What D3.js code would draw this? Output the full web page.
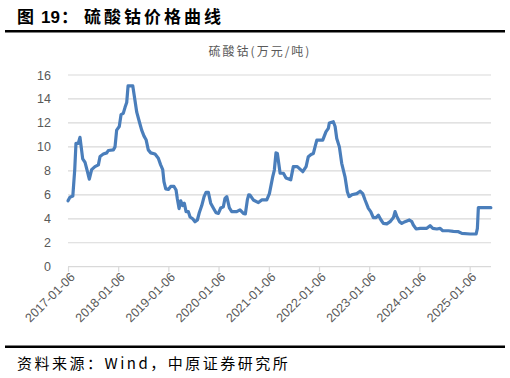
<!DOCTYPE html>
<html>
<head>
<meta charset="utf-8">
<script src="https://cdn.jsdelivr.net/npm/d3@7"></script>
<style>
  body { margin: 0; background: #fff; }
  text { font-family: "Liberation Sans", Arial, sans-serif; }
  .cjk { font-family: "Noto Sans CJK SC", sans-serif; }
</style>
</head>
<body>
<svg id="chart" width="510" height="378"></svg>
<script>
// 硫酸钴 价格 (万元/吨)
let dates = [
  "2017-01-06","2017-01-20","2017-02-10","2017-02-24","2017-03-05","2017-03-22","2017-04-03","2017-04-23",
  "2017-05-10","2017-05-26","2017-06-10","2017-06-27","2017-07-21","2017-08-15","2017-08-27","2017-09-20",
  "2017-10-15","2017-10-26","2017-12-02","2017-12-14","2017-12-26","2018-01-14","2018-01-27","2018-02-12",
  "2018-02-25","2018-03-09","2018-03-19","2018-04-22","2018-05-08","2018-05-21","2018-06-09","2018-06-26",
  "2018-07-13","2018-07-28","2018-08-13","2018-08-31","2018-10-01","2018-10-25","2018-11-11","2018-11-26",
  "2018-12-05","2018-12-18","2019-01-06","2019-01-23","2019-02-16","2019-03-03","2019-03-12","2019-03-25",
  "2019-04-06","2019-04-20","2019-05-02","2019-05-15","2019-05-31","2019-06-13","2019-07-02","2019-07-19",
  "2019-08-05","2019-08-19","2019-09-06","2019-09-23","2019-10-07","2019-10-24","2019-11-10","2019-11-29",
  "2019-12-19","2020-01-05","2020-01-22","2020-02-10","2020-02-22","2020-03-06","2020-03-25","2020-04-11",
  "2020-05-17","2020-06-10","2020-07-05","2020-07-19","2020-08-03","2020-08-13","2020-08-22","2020-09-15",
  "2020-10-22","2020-11-15","2020-12-22","2021-01-10","2021-02-03","2021-02-15","2021-02-27","2021-03-09",
  "2021-03-29","2021-04-22","2021-05-11","2021-06-14","2021-07-03","2021-08-01","2021-09-10","2021-10-04",
  "2021-10-20","2021-11-09","2021-11-26","2021-12-08","2021-12-21","2022-02-02","2022-02-26","2022-03-15",
  "2022-03-22","2022-04-20","2022-05-03","2022-05-15","2022-06-03","2022-06-20","2022-07-14","2022-07-31",
  "2022-08-13","2022-09-01","2022-10-08","2022-11-01","2022-11-20","2022-12-07","2022-12-31","2023-01-17",
  "2023-02-05","2023-02-25","2023-03-14","2023-04-02","2023-04-19","2023-05-14","2023-06-07","2023-07-01",
  "2023-07-13","2023-07-26","2023-08-14","2023-08-31","2023-09-24","2023-10-25","2023-11-12","2023-11-23",
  "2023-12-13","2024-01-11","2024-02-29","2024-03-24","2024-04-13","2024-05-12","2024-06-05","2024-06-24",
  "2024-08-04","2024-09-09","2024-10-16","2024-11-10","2025-01-09","2025-02-22","2025-03-03","2025-03-10",
  "2025-06-09"
];
let prices = [
  5.5,5.8,5.9,8.1,10.3,10.3,10.8,9.0,
  8.7,8.0,7.3,8.1,8.35,8.5,9.2,9.4,
  9.5,9.7,9.75,10.0,11.4,11.7,12.7,12.8,
  13.3,13.7,15.1,15.1,13.9,12.9,12.1,11.4,
  10.9,10.6,9.75,9.5,9.4,9.05,8.5,8.1,
  7.1,6.5,6.45,6.7,6.7,6.4,5.7,4.85,
  5.5,5.1,5.3,4.6,4.6,4.15,4.0,3.75,
  3.9,4.5,5.1,5.85,6.2,6.2,5.3,4.9,
  4.5,4.45,4.9,5.0,5.7,5.85,4.9,4.6,
  4.6,4.75,4.45,4.4,5.6,6.0,5.98,5.57,
  5.35,5.57,5.57,6.1,7.5,8.07,9.5,9.45,
  7.8,7.8,7.4,7.25,8.35,8.35,7.93,8.35,
  9.18,9.37,9.45,10.0,10.57,10.57,11.27,11.55,
  12.0,12.1,11.7,10.7,10.0,8.63,7.5,6.26,
  5.85,6.0,6.1,6.3,6.1,5.57,4.87,4.6,
  4.1,4.1,4.3,3.9,3.62,3.57,3.76,4.1,
  4.6,4.2,3.76,3.62,3.76,3.9,3.76,3.48,
  3.15,3.2,3.2,3.42,3.2,3.15,3.2,3.0,
  3.0,2.95,2.92,2.78,2.73,2.73,3.2,4.93,
  4.93
];
let xTicks = ["2017-01-06","2018-01-06","2019-01-06","2020-01-06","2021-01-06",
              "2022-01-06","2023-01-06","2024-01-06","2025-01-06"];
let yTicks = [0, 2, 4, 6, 8, 10, 12, 14, 16];

let parse = d3.timeParse("%Y-%m-%d"),
    fmt = d3.timeFormat("%Y-%m-%d"),
    line_color = "#4a7ebb",
    grid_color = "#d9d9d9",
    label_color = "#595959";

let data = dates.map((d, i) => ({date: parse(d), value: prices[i]}));

let svg = d3.select("#chart");

let x = d3.scaleTime()
    .domain([parse("2017-01-06"), parse("2025-06-10")])
    .range([68, 491]);
let y = d3.scaleLinear()
    .domain([0, 16])
    .range([266.7, 75]);

// title + rules
let title = svg.append("text").attr("class", "cjk")
    .attr("y", 23)
    .style("font-size", "17px").style("font-weight", "bold")
    .attr("fill", "#000");
title.append("tspan").attr("x", 17).text("图");
title.append("tspan").attr("x", 41).style("font-family", "'Liberation Sans', Arial, sans-serif").text("19");
title.append("tspan").attr("x", 61).text("：");
title.append("tspan").attr("x", 84).style("letter-spacing", "3px").text("硫酸钴价格曲线");

svg.append("rect").attr("x", 5).attr("y", 30).attr("width", 500).attr("height", 2.5).attr("fill", "#000");
svg.append("rect").attr("x", 5).attr("y", 345.5).attr("width", 500).attr("height", 2.5).attr("fill", "#000");
svg.append("text").attr("class", "cjk")
    .attr("x", 17).attr("y", 369)
    .style("font-size", "15px").style("letter-spacing", "2.5px").attr("fill", "#000")
    .text("资料来源：Wind，中原证券研究所");

svg.append("text").attr("class", "cjk")
    .attr("x", 260).attr("y", 56).attr("text-anchor", "middle")
    .style("font-size", "12px").style("letter-spacing", "2px").attr("fill", label_color)
    .text("硫酸钴(万元/吨)");

// grid
svg.append("g").selectAll("line")
    .data(yTicks)
    .enter().append("line")
    .attr("x1", 68).attr("x2", 491)
    .attr("y1", d => y(d)).attr("y2", d => y(d))
    .attr("stroke", grid_color).attr("stroke-width", 1.2);

// y axis labels
let yAxis = svg.append("g")
    .attr("transform", "translate(68,0)")
    .call(d3.axisLeft(y).tickValues(yTicks).tickSize(0).tickPadding(17));
yAxis.select(".domain").remove();
yAxis.selectAll("text").style("font-size", "12.5px").attr("fill", label_color)
    .style("font-family", "'Liberation Sans', Arial, sans-serif");

// x axis
let xAxis = svg.append("g")
    .attr("transform", "translate(0," + y(0) + ")")
    .call(d3.axisBottom(x).tickValues(xTicks.map(parse)).tickFormat(fmt).tickSize(5));
xAxis.select(".domain").remove();
xAxis.selectAll(".tick line").attr("stroke", grid_color).attr("stroke-width", 1.2);
xAxis.selectAll("text")
    .style("font-size", "12.5px").attr("fill", label_color)
    .style("font-family", "'Liberation Sans', Arial, sans-serif")
    .attr("text-anchor", "end")
    .attr("dy", "0.35em")
    .attr("transform", "translate(4,8) rotate(-45)")
    .attr("x", 0).attr("y", 0);

// the series
let line = d3.line()
    .x(d => x(d.date))
    .y(d => y(d.value));

svg.append("path")
    .datum(data)
    .attr("d", line)
    .attr("fill", "none")
    .attr("stroke", line_color)
    .attr("stroke-width", 3.2)
    .attr("stroke-linejoin", "round")
    .attr("stroke-linecap", "round");
</script>
</body>
</html>
